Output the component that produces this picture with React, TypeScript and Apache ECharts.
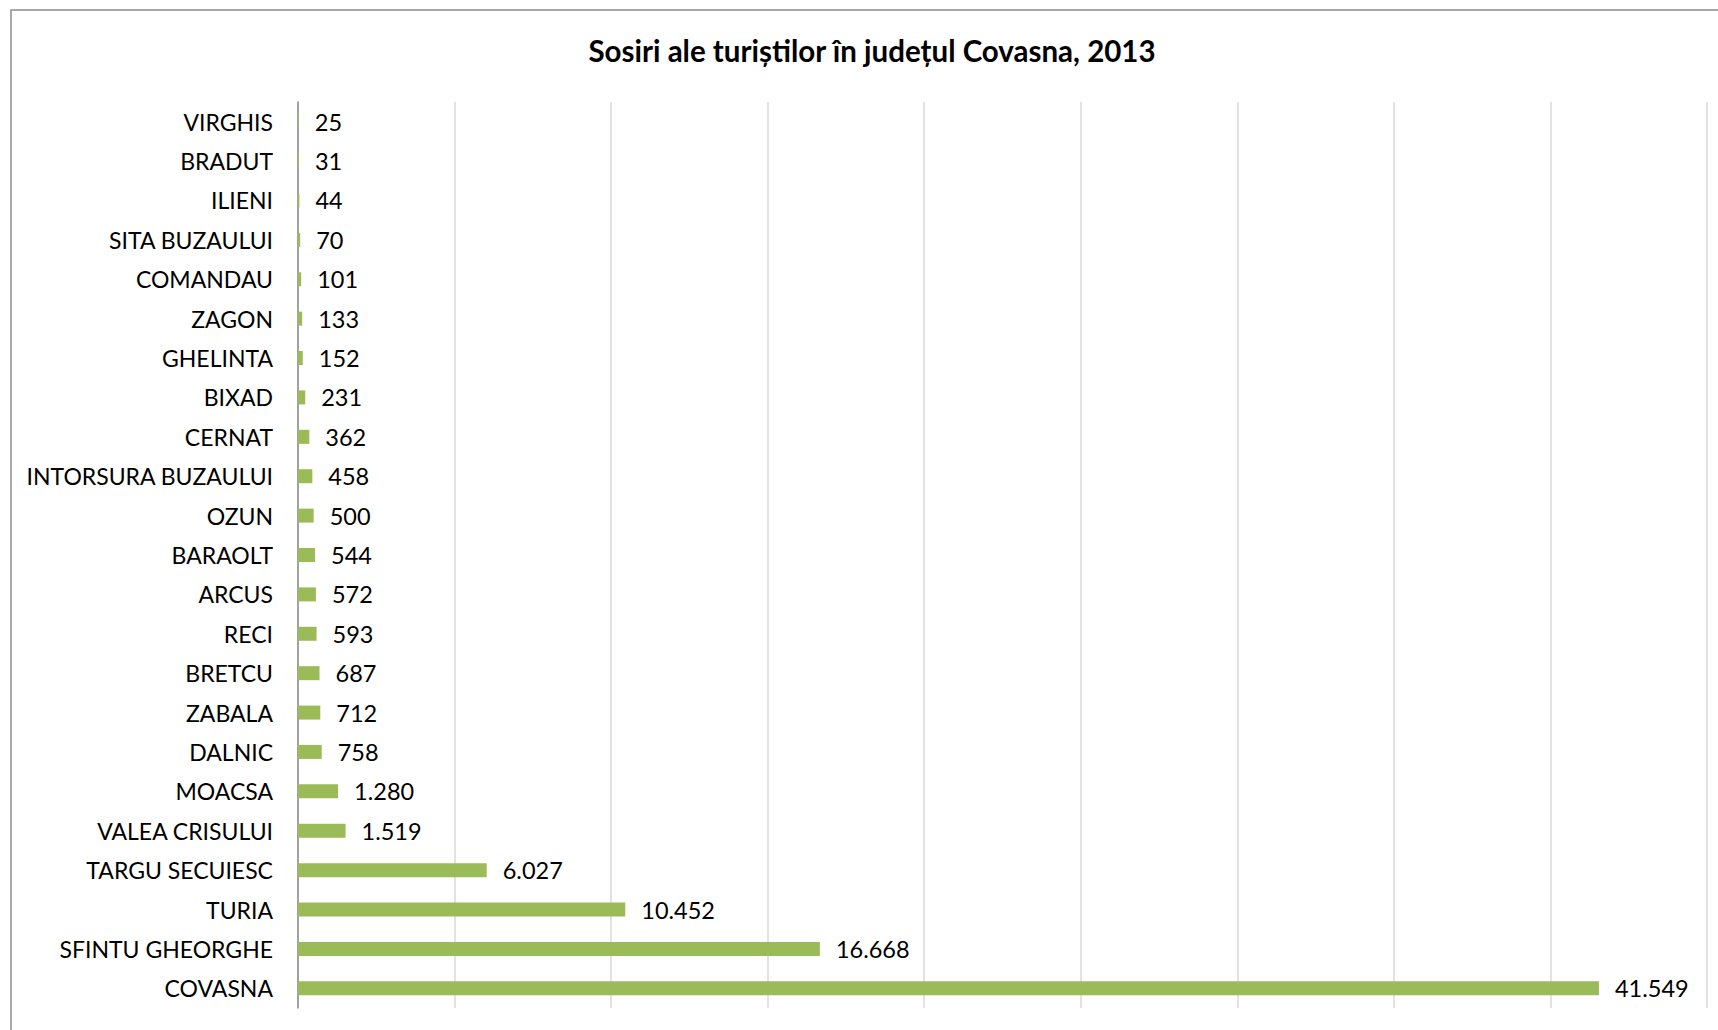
import React, { useEffect, useRef } from "react";
import * as echarts from "echarts";

const categories = [
  "VIRGHIS", "BRADUT", "ILIENI", "SITA BUZAULUI", "COMANDAU", "ZAGON", "GHELINTA",
  "BIXAD", "CERNAT", "INTORSURA BUZAULUI", "OZUN", "BARAOLT", "ARCUS", "RECI",
  "BRETCU", "ZABALA", "DALNIC", "MOACSA", "VALEA CRISULUI", "TARGU SECUIESC",
  "TURIA", "SFINTU GHEORGHE", "COVASNA",
];
const arrivals = [
  25, 31, 44, 70, 101, 133, 152, 231, 362, 458, 500, 544, 572, 593, 687, 712, 758,
  1280, 1519, 6027, 10452, 16668, 41549,
];
const titleText = "Sosiri ale turiștilor în județul Covasna, 2013";

const FONT = "Lato";

function fmt(v: number): string {
  return String(v).replace(/\B(?=(\d{3})+(?!\d))/g, ".");
}

export default function App() {
  const ref = useRef<HTMLDivElement>(null);
  useEffect(() => {
    document.body.style.margin = "0";
    const chart = echarts.init(ref.current!, null, { renderer: "svg" });
    chart.setOption({
      animation: false,
      backgroundColor: "#ffffff",
      graphic: [
        {
          type: "rect",
          shape: { x: 11, y: 10, width: 1800, height: 1100 },
          style: { fill: "none", stroke: "#8c8c8c", lineWidth: 1.5 },
          silent: true,
        },
        {
          type: "text",
          x: 872,
          y: 50,
          style: {
            text: titleText,
            font: `bold 29.5px ${FONT}`,
            fill: "#000000",
            textAlign: "center",
            textVerticalAlign: "middle",
          },
        },
      ],
      grid: { left: 298, right: 11, top: 102, bottom: 22, containLabel: false },
      xAxis: {
        type: "value",
        min: 0,
        max: 45000,
        interval: 5000,
        axisLabel: { show: false },
        axisLine: { show: false },
        axisTick: { show: false },
        splitLine: { show: true, lineStyle: { color: "#d9d9d9", width: 1.5 } },
      },
      yAxis: {
        type: "category",
        data: categories,
        inverse: true,
        axisLine: { show: true, lineStyle: { color: "#8c8c8c", width: 1.5 } },
        axisTick: { show: false },
        axisLabel: {
          color: "#000000",
          fontFamily: FONT,
          fontSize: 23,
          margin: 25,
        },
      },
      series: [
        {
          type: "bar",
          data: arrivals,
          barWidth: 14,
          itemStyle: { color: "#9bbb59" },
          label: {
            show: true,
            position: "right",
            distance: 16,
            color: "#000000",
            fontFamily: FONT,
            fontSize: 23.5,
            formatter: (p: any) => fmt(p.value),
          },
        },
      ],
    });
    return () => chart.dispose();
  }, []);
  return (
    <div
      ref={ref}
      style={{ position: "fixed", left: 0, top: 0, width: 1718, height: 1030 }}
    />
  );
}
